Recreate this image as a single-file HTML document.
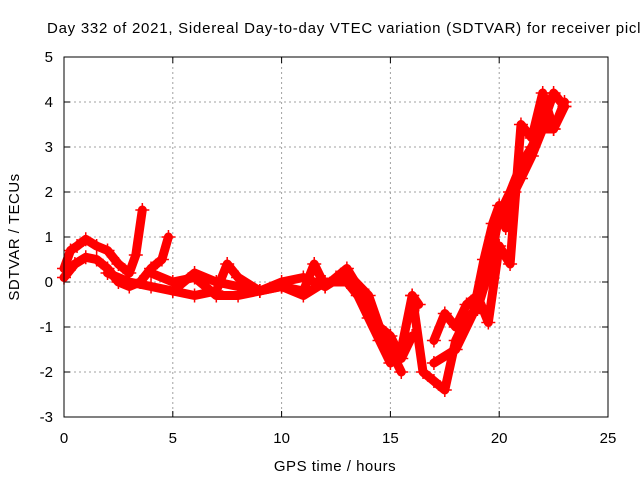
<!DOCTYPE html>
<html><head><meta charset="utf-8"><style>
body{margin:0;background:#fff}
svg{display:block;font-family:"Liberation Sans",sans-serif}
</style></head><body>
<svg id="chart" width="640" height="480" viewBox="0 0 640 480">
<text x="47" y="33" font-size="15" letter-spacing="0.75" fill="#000">Day 332 of 2021, Sidereal Day-to-day VTEC variation (SDTVAR) for receiver picl</text>
<text transform="translate(19,237) rotate(-90)" text-anchor="middle" font-size="15" letter-spacing="0.5">SDTVAR / TECUs</text>
<text x="335" y="471" text-anchor="middle" font-size="15" letter-spacing="0.5">GPS time / hours</text>
<g id="grid"></g>
<g id="series"></g>
<rect x="64" y="57" width="544" height="360" fill="none" stroke="#000" stroke-width="1"/>
</svg>
<script>
const xTicks=[0,5,10,15,20,25];
const yTicks=[-3,-2,-1,0,1,2,3,4,5];
const trackAx=[0,0.3,0.6,1,1.5,2,2.5,3,3.3,3.6];
const trackAy=[0.3,0.7,0.8,0.95,0.8,0.7,0.4,0.2,0.6,1.6];
const trackBx=[0,0.5,1,1.5,2,2.5,3,3.5,4,4.5,4.8];
const trackBy=[0.1,0.4,0.55,0.5,0.3,0,-0.1,0,0.3,0.5,1.0];
const trackCx=[2,3,4,5,6,7,7.5,8,9,10,11,12,13,14,14.5,15,15.5];
const trackCy=[0.2,0,-0.1,-0.2,-0.3,-0.2,0.4,0.1,-0.2,0,0.1,-0.1,0.2,-0.3,-1,-1.5,-2];
const trackDx=[4,5,6,7,8,9,10,11,11.5,12,12.5,13,13.5,14,14.5,15,15.5,16];
const trackDy=[0.2,0,0.1,-0.3,-0.3,-0.2,-0.1,-0.2,0.4,-0.1,0.1,0.3,-0.1,-0.5,-1,-1.2,-1.7,-1.2];
const trackEx=[5,6,7,8,9,10,11,12,13,13.5,14,14.5,15,15.5,16,16.3];
const trackEy=[-0.2,0.2,0,-0.1,-0.2,-0.1,-0.3,0,0,-0.3,-0.8,-1.3,-1.8,-1.5,-0.3,-0.5];
const trackFx=[16,16.5,17,17.5,18,18.5,19,19.5,20,20.5,21,21.5,22,22.5,23];
const trackFy=[-0.3,-2,-2.2,-2.4,-1.3,-0.8,-0.6,0.2,1.5,2,2.6,3,3.5,4.2,3.9];
const trackGx=[17,17.5,18,18.5,19,19.5,20,20.5,21,21.5,22,22.5,23];
const trackGy=[-1.3,-0.7,-1,-0.5,-0.3,-0.9,0.8,0.4,3.5,3.2,4.2,3.4,3.9];
const trackHx=[17,18,18.8,19.3,19.7,20,20.3,20.7,21,21.5,22,22.5,23];
const trackHy=[-1.8,-1.5,-0.7,0.5,1.3,1.7,1.2,2,2.3,2.8,3.4,3.4,4.0];
const tracks=[[trackAx,trackAy],[trackBx,trackBy],[trackCx,trackCy],[trackDx,trackDy],[trackEx,trackEy],[trackFx,trackFy],[trackGx,trackGy],[trackHx,trackHy]];

const NS="http://www.w3.org/2000/svg";
const X0=64,X1=608,Y0=417,Y1=57;
const sx=v=>X0+(v-0)/(25-0)*(X1-X0);
const sy=v=>Y0-(v+3)/8*(Y0-Y1);
function mk(tag,attrs,parent){const e=document.createElementNS(NS,tag);for(const k in attrs)e.setAttribute(k,attrs[k]);parent.appendChild(e);return e;}
const grid=document.getElementById('grid');
xTicks.forEach(t=>{
  const x=sx(t);
  if(t>0&&t<25){const g=mk('line',{x1:x,x2:x,y1:Y1,y2:Y0,stroke:'#a0a0a0','stroke-dasharray':'2,3'},grid);
  
  }
  const tk=mk('line',{x1:x,x2:x,y1:Y0,y2:Y0-6,stroke:'#000'},grid);
  
  
  const tk2=mk('line',{x1:x,x2:x,y1:Y1,y2:Y1+6,stroke:'#000'},grid);
  
  
  const l=mk('text',{x:x,y:443,'text-anchor':'middle','font-size':'15'},grid);l.textContent=t;
  
  
});
yTicks.forEach(t=>{
  const y=sy(t);
  if(t>-3&&t<5){const g=mk('line',{x1:X0,x2:X1,y1:y,y2:y,stroke:'#a0a0a0','stroke-dasharray':'2,3'},grid);
  
  }
  const tk=mk('line',{x1:X0,x2:X0+6,y1:y,y2:y,stroke:'#000'},grid);
  
  
  const tk2=mk('line',{x1:X1,x2:X1-6,y1:y,y2:y,stroke:'#000'},grid);
  
  
  const l=mk('text',{x:53,y:y+5,'text-anchor':'end','font-size':'15'},grid);l.textContent=t;
  
  
});
const ser=document.getElementById('series');
tracks.forEach(([xs,ys],i)=>{
  const pts=xs.map((x,j)=>sx(x).toFixed(1)+','+sy(ys[j]).toFixed(1)).join(' ');
  const pl=mk('polyline',{points:pts,fill:'none',stroke:'#f00','stroke-width':'9','stroke-linejoin':'round','stroke-linecap':'round'},ser);
  
  
  xs.forEach((x,j)=>{
    const cx=sx(x),cy=sy(ys[j]);
    const p=mk('path',{d:`M${cx-7},${cy}H${cx+7}M${cx},${cy-7}V${cy+7}`,stroke:'#f00','stroke-width':'1.5'},ser);
    
    
  });
});
</script>
</body></html>
